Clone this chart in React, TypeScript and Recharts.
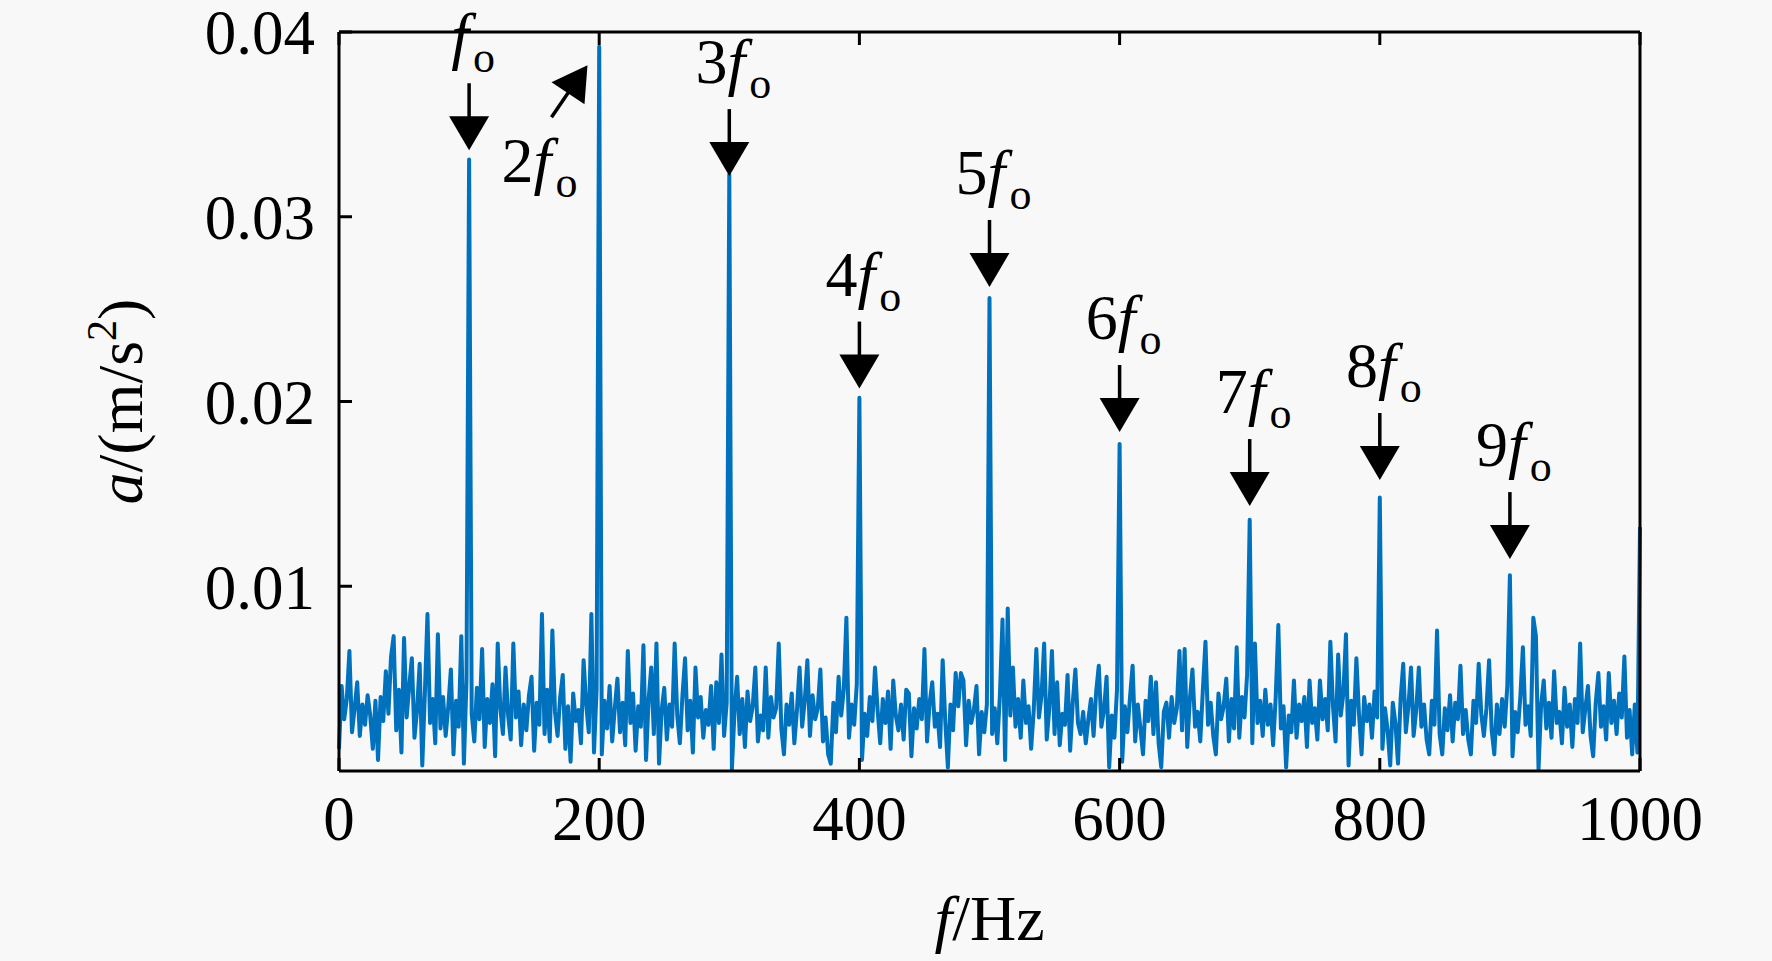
import React from 'react';
import { LineChart, Line, XAxis, YAxis, ReferenceDot, Label } from 'recharts';

// spectrum amplitude, unit 1e-3 m/s^2, one value every 2 Hz from 0 to 1000 Hz
const STEP_HZ = 2;
const amplitude = [
  1.2, 4.6, 2.8, 3.9, 6.5, 2.1, 3.4, 4.8, 1.9, 3.6, 2.5, 4.1, 3.0, 1.2, 3.8, 0.6, 4.0, 2.7, 5.4, 3.1, 6.2, 7.3, 2.2, 4.4, 1.0,
  7.2, 2.9, 4.6, 6.1, 1.8, 3.3, 5.8, 0.3, 4.2, 8.5, 2.6, 3.9, 1.5, 7.4, 2.3, 4.0, 1.9, 3.5, 5.5, 0.9, 3.8, 2.4, 7.3, 0.4, 4.9,
  33.1, 3.1, 1.6, 4.5, 2.8, 6.6, 1.3, 3.9, 2.6, 4.7, 0.8, 6.9, 3.4, 2.0, 5.6, 3.0, 1.7, 6.9, 2.9, 4.3, 1.4, 3.6, 2.2, 4.1, 5.1,
  1.1, 3.7, 2.5, 8.5, 2.0, 4.4, 1.6, 7.6, 3.2, 1.9, 4.0, 5.2, 1.2, 3.5, 0.5, 4.2, 2.7, 3.3, 1.5, 6.0, 3.6, 2.1, 8.5, 1.0, 4.4,
  39.2, 0.9, 3.8, 2.3, 4.6, 1.6, 3.4, 5.0, 2.1, 3.7, 1.4, 6.5, 2.6, 4.2, 1.1, 3.5, 2.4, 6.8, 0.6, 3.9, 5.6, 2.0, 6.9, 0.4, 3.3,
  4.5, 1.7, 3.6, 2.4, 6.9, 3.0, 1.5, 4.1, 6.1, 2.2, 3.8, 1.0, 5.6, 2.9, 4.0, 1.8, 3.3, 2.5, 4.6, 1.2, 4.8, 2.6, 6.3, 1.9, 3.7,
  32.3, 0.1, 3.2, 5.1, 2.0, 3.9, 1.3, 4.3, 2.7, 3.5, 5.6, 1.6, 3.0, 2.2, 5.6, 1.8, 4.0, 2.9, 3.4, 6.9, 2.3, 0.9, 3.6, 2.5, 4.2,
  1.5, 3.3, 5.6, 2.4, 3.8, 6.0, 1.9, 4.1, 2.8, 3.4, 5.5, 1.6, 2.9, 0.9, 0.4, 3.7, 2.1, 5.1, 3.0, 4.4, 8.3, 1.8, 3.6, 2.5, 4.7,
  20.2, 0.6, 3.1, 1.9, 4.0, 2.7, 5.6, 3.3, 1.5, 3.9, 2.6, 4.3, 1.2, 4.9, 3.0, 2.2, 3.6, 1.7, 4.4, 4.2, 0.8, 3.4, 2.3, 3.9, 2.8,
  6.6, 1.6, 3.7, 4.8, 2.4, 3.1, 1.3, 6.0, 2.7, 0.2, 3.6, 2.2, 5.3, 3.5, 5.3, 4.9, 1.4, 3.8, 2.6, 3.3, 4.6, 0.9, 3.2, 2.1, 3.6,
  25.6, 2.0, 3.4, 1.5, 4.1, 8.2, 0.6, 8.8, 3.0, 5.6, 2.4, 3.9, 1.8, 4.9, 2.6, 3.5, 1.2, 3.3, 6.6, 2.9, 4.1, 6.9, 1.7, 3.4, 6.5,
  2.0, 4.8, 1.4, 3.1, 2.5, 5.2, 1.1, 3.7, 5.5, 2.6, 2.0, 3.2, 1.5, 2.8, 3.9, 1.9, 4.3, 5.7, 2.4, 3.3, 5.1, 0.2, 3.0, 1.8, 4.4,
  17.7, 0.5, 3.5, 2.1, 4.0, 5.7, 1.6, 3.6, 2.3, 0.9, 3.8, 2.7, 5.1, 2.0, 4.8, 1.5, 0.2, 3.2, 3.7, 1.8, 4.0, 2.6, 3.4, 6.5, 2.2,
  6.6, 1.3, 3.9, 5.5, 2.4, 3.2, 1.6, 4.4, 7.0, 2.5, 3.7, 1.9, 0.9, 4.2, 2.8, 3.5, 5.0, 1.6, 3.9, 2.3, 6.7, 1.8, 4.0, 2.9, 5.2,
  13.6, 1.5, 6.9, 2.6, 3.8, 1.9, 4.4, 2.5, 3.6, 1.4, 4.0, 7.9, 2.3, 3.5, 0.2, 3.0, 2.1, 4.9, 1.8, 3.6, 2.7, 4.0, 1.3, 4.9, 2.6,
  3.4, 1.7, 4.9, 2.8, 3.9, 2.2, 7.0, 3.5, 1.6, 6.3, 3.0, 4.2, 7.4, 0.3, 3.8, 2.5, 6.1, 3.1, 0.9, 4.0, 2.7, 3.6, 1.8, 4.3, 2.9,
  14.8, 1.2, 3.4, 2.2, 0.3, 3.7, 2.6, 0.4, 3.9, 5.8, 2.1, 3.5, 5.6, 1.9, 3.3, 5.6, 2.4, 3.6, 1.7, 0.9, 3.8, 2.5, 7.6, 2.0, 0.9,
  3.4, 2.2, 4.1, 1.6, 3.7, 2.8, 5.7, 2.0, 3.3, 1.7, 0.9, 3.8, 2.6, 5.8, 3.1, 1.9, 3.4, 6.0, 2.2, 0.9, 3.6, 2.0, 3.9, 2.4, 4.6,
  10.6, 0.8, 3.2, 2.1, 4.0, 6.7, 2.5, 3.5, 1.9, 8.3, 7.3, 0.1, 3.6, 4.9, 2.3, 3.7, 1.8, 5.4, 2.6, 3.2, 1.5, 4.5, 2.4, 3.6, 1.3,
  3.9, 2.6, 6.9, 2.1, 3.4, 4.6, 1.9, 0.8, 3.7, 5.3, 2.4, 3.5, 1.7, 5.3, 2.6, 3.8, 2.0, 4.2, 2.9, 6.2, 1.8, 3.3, 0.9, 3.6, 1.0,
  13.2,
];

const xTicks = [0, 200, 400, 600, 800, 1000];
const yTicks = [0.01, 0.02, 0.03, 0.04];

// harmonic markers: arrow tip position (Hz, m/s^2) and multiplier text
const markerHz = [100, 191, 300, 400, 500, 600, 700, 800, 900];
const markerTip = [0.0336, 0.0382, 0.0322, 0.0207, 0.0262, 0.01835, 0.01434, 0.01575, 0.01147];
const markerMult = ['', '2', '3', '4', '5', '6', '7', '8', '9'];
const markerDir = ['down', 'upright', 'down', 'down', 'down', 'down', 'down', 'down', 'down'];

const data = amplitude.map((v, i) => ({ f: i * STEP_HZ, a: v / 1000 }));

const FONT = '"Liberation Serif", "DejaVu Serif", serif';
const BLUE = '#0072bd';

const MarkerLabel = ({ x, y, mult }: { x: number; y: number; mult: string }) => (
  <text x={x} y={y} textAnchor="middle" fontFamily={FONT} fontSize={64} fill="#000">
    {mult && <tspan>{mult}</tspan>}
    <tspan fontStyle="italic">f</tspan>
    <tspan fontSize={44} dx={4} dy={15}>o</tspan>
  </text>
);

const makeShape = (i: number) => (props: any) => {
  const { cx, cy } = props;
  const mult = markerMult[i];
  if (markerDir[i] === 'upright') {
    return (
      <g>
        <line x1={cx - 36} y1={cy + 52} x2={cx - 19} y2={cy + 27} stroke="#000" strokeWidth={3.5} />
        <polygon points={`${cx},${cy} ${cx - 3},${cy + 39} ${cx - 36},${cy + 17}`} fill="#000" />
        <MarkerLabel x={cx - 48} y={cy + 117} mult={mult} />
      </g>
    );
  }
  return (
    <g>
      <line x1={cx} y1={cy - 67} x2={cx} y2={cy - 30} stroke="#000" strokeWidth={3.5} />
      <polygon points={`${cx - 20},${cy - 34} ${cx + 20},${cy - 34} ${cx},${cy}`} fill="#000" />
      <MarkerLabel x={cx + 4} y={cy - 93} mult={mult} />
    </g>
  );
};

const renderXTitle = (props: any) => {
  const vb = props.viewBox || { x: 339, y: 771, width: 1301 };
  return (
    <text x={vb.x + vb.width / 2} y={vb.y + 169} textAnchor="middle" fontFamily={FONT} fontSize={64} fill="#000">
      <tspan fontStyle="italic">f</tspan>
      <tspan>/Hz</tspan>
    </text>
  );
};

const renderYTitle = (props: any) => {
  const vb = props.viewBox || { x: 259, y: 32, width: 80, height: 739 };
  const x = vb.x + vb.width - 197;
  const y = vb.y + vb.height / 2;
  return (
    <text x={x} y={y} transform={`rotate(-90, ${x}, ${y})`} textAnchor="middle" fontFamily={FONT} fontSize={64} fill="#000">
      <tspan fontStyle="italic">a</tspan>
      <tspan>/(m/s</tspan>
      <tspan fontSize={42} dy={-26}>2</tspan>
      <tspan dy={26}>)</tspan>
    </text>
  );
};

const tickStyle = { fill: '#000', fontSize: 63, fontFamily: FONT };
const axisStroke = { stroke: '#000', strokeWidth: 3 };

export default function App() {
  return (
    <div style={{ position: 'absolute', left: 0, top: 0, width: 1772, height: 961, background: '#f8f8f8' }}>
      <LineChart width={1772} height={961} data={data} margin={{ top: 31, right: 131, bottom: 130, left: 259 }}>
        <XAxis
          dataKey="f"
          type="number"
          domain={[0, 1000]}
          ticks={xTicks}
          interval={0}
          height={60}
          tickSize={-13}
          tickMargin={37}
          tick={tickStyle}
          axisLine={axisStroke}
          tickLine={axisStroke}
        >
          <Label content={renderXTitle} />
        </XAxis>
        <XAxis
          xAxisId="top"
          orientation="top"
          dataKey="f"
          type="number"
          domain={[0, 1000]}
          ticks={xTicks}
          interval={0}
          height={1}
          tickSize={-13}
          tickFormatter={() => ''}
          axisLine={axisStroke}
          tickLine={axisStroke}
        />
        <YAxis
          type="number"
          domain={[0, 0.04]}
          ticks={yTicks}
          interval={0}
          width={80}
          tickSize={-13}
          tickMargin={37}
          tick={tickStyle}
          axisLine={axisStroke}
          tickLine={axisStroke}
        >
          <Label content={renderYTitle} />
        </YAxis>
        <YAxis
          yAxisId="right"
          orientation="right"
          type="number"
          domain={[0, 0.04]}
          ticks={yTicks}
          interval={0}
          width={1}
          tickSize={-13}
          tickFormatter={() => ''}
          axisLine={axisStroke}
          tickLine={axisStroke}
        />
        <Line
          type="linear"
          dataKey="a"
          stroke={BLUE}
          strokeWidth={4}
          strokeLinejoin="round"
          dot={false}
          activeDot={false}
          isAnimationActive={false}
        />
        {markerHz.map((hz, i) => (
          <ReferenceDot key={hz} x={hz} y={markerTip[i]} r={0} shape={makeShape(i)} ifOverflow="visible" />
        ))}
      </LineChart>
    </div>
  );
}
